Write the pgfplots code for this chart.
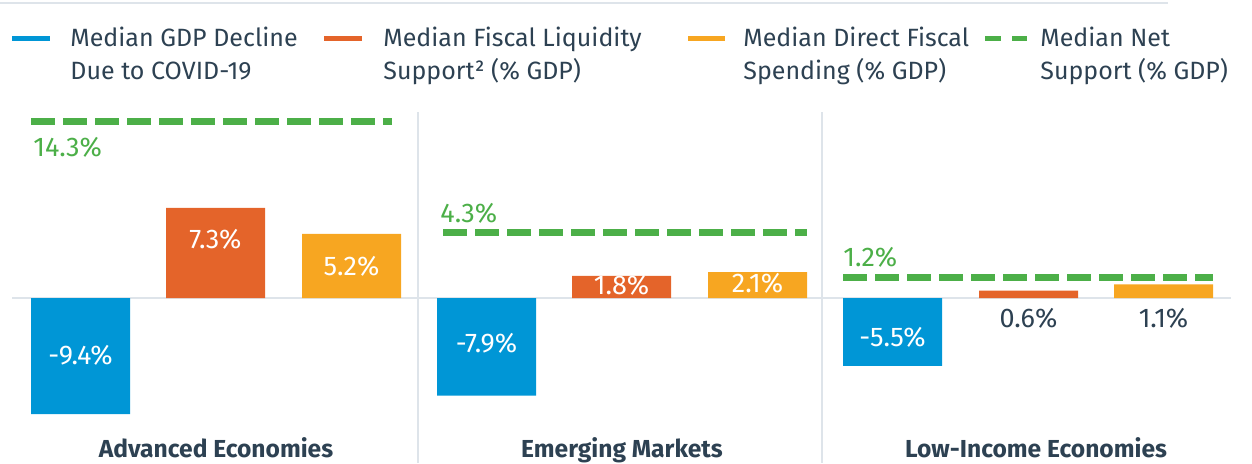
\documentclass[border=0pt]{standalone}
\usepackage{pgfplots}
\pgfplotsset{compat=1.18}
\usepackage{fontspec}
\setmainfont{Fira Sans}
\definecolor{cblue}{RGB}{0,150,214}
\definecolor{corange}{RGB}{228,100,42}
\definecolor{cyellow}{RGB}{247,166,33}
\definecolor{cgreen}{RGB}{76,175,72}
\definecolor{ctext}{RGB}{45,65,82}
\definecolor{cgrid}{RGB}{222,228,234}
\begin{document}
\begin{tikzpicture}[font=\fontsize{12.5}{14}\selectfont]
\path[use as bounding box] (0,0) rectangle (626pt,231.5pt);
\begin{axis}[
  at={(0,0)}, anchor=south west, scale only axis,
  width=626pt, height=231.5pt,
  xmin=0, xmax=1252, ymin=-13.36, ymax=24.13,
  axis lines=none, clip=false,
  ybar, bar width=49.5pt, bar shift=0pt,
]
% separators and zero line
\draw[cgrid, line width=1pt] (axis cs:418,15.06) -- (axis cs:418,-13.36);
\draw[cgrid, line width=1pt] (axis cs:822,15.06) -- (axis cs:822,-13.36);
\draw[cgrid, line width=1.2pt] (axis cs:12,0) -- (axis cs:1231,0);
% bars
\addplot[fill=cblue, draw=none] coordinates {(80.5,-9.4) (486.5,-7.9) (892.5,-5.5)};
\addplot[fill=corange, draw=none] coordinates {(215.5,7.3) (621.5,1.8) (1028.5,0.6)};
\addplot[fill=cyellow, draw=none] coordinates {(351.5,5.2) (757.5,2.1) (1163.5,1.1)};
% net support lines
\addplot[sharp plot, no marks, cgreen, line width=3.5pt, dash pattern=on 12pt off 4pt] coordinates {(31,14.3) (392,14.3)};
\addplot[sharp plot, no marks, cgreen, line width=3.5pt, dash pattern=on 12pt off 4pt] coordinates {(443,5.3) (807,5.3)};
\addplot[sharp plot, no marks, cgreen, line width=3.5pt, dash pattern=on 12pt off 4pt] coordinates {(843,1.68) (1213,1.68)};
\end{axis}
\begin{scope}[x=0.5pt,y=-0.5pt,shift={(0pt,231.5pt)}, every node/.style={inner sep=0pt, text=ctext}]
% top rule
\draw[cgrid, line width=1pt] (0,3) -- (1168,3);
% legend
\draw[cblue, line width=2.5pt] (12,38) -- (50,38);
\node[anchor=base west] at (70,46) {Median GDP Decline};
\node[anchor=base west] at (70,79) {Due to COVID-19};
\draw[corange, line width=2.5pt] (324,38) -- (362,38);
\node[anchor=base west] at (383,46) {Median Fiscal Liquidity};
\node[anchor=base west] at (383,79) {Support² (\% GDP)};
\draw[cyellow, line width=2.5pt] (688,38) -- (725,38);
\node[anchor=base west] at (743,46) {Median Direct Fiscal};
\node[anchor=base west] at (743,79) {Spending (\% GDP)};
\draw[cgreen, line width=2.5pt, dash pattern=on 8pt off 5.5pt] (985,38) -- (1027,38);
\node[anchor=base west] at (1040,46) {Median Net};
\node[anchor=base west] at (1040,79) {Support (\% GDP)};
% value labels
\begin{scope}[every node/.append style={font=\fontsize{13.5}{15}\selectfont}]
\node[text=white] at (80.5,355) {-9.4\%};
\node[text=white] at (215.5,239) {7.3\%};
\node[text=white] at (351.5,266) {5.2\%};
\node[text=white] at (486.5,343) {-7.9\%};
\node[text=white] at (621.5,285) {1.8\%};
\node[text=white] at (757.5,283) {2.1\%};
\node[text=white] at (892.5,337) {-5.5\%};
\node at (1028.5,318) {0.6\%};
\node at (1163.5,318) {1.1\%};
\node[anchor=west, text=cgreen] at (33,147) {14.3\%};
\node[anchor=west, text=cgreen] at (440,213) {4.3\%};
\node[anchor=west, text=cgreen] at (843,257) {1.2\%};
\end{scope}
% category labels
\node[anchor=base, font=\fontsize{12.3}{14}\selectfont\bfseries] at (216,457) {Advanced Economies};
\node[anchor=base, font=\fontsize{12.3}{14}\selectfont\bfseries] at (622,457) {Emerging Markets};
\node[anchor=base, font=\fontsize{12.3}{14}\selectfont\bfseries] at (1036,457) {Low-Income Economies};
\end{scope}
\end{tikzpicture}
\end{document}
